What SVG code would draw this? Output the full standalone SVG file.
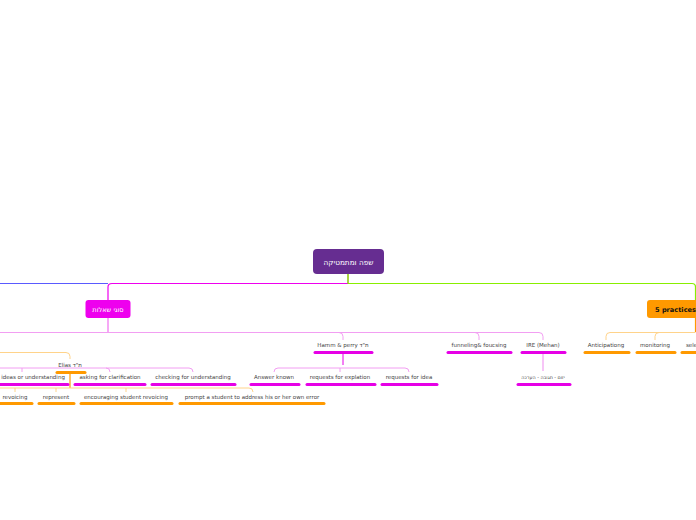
<svg xmlns="http://www.w3.org/2000/svg" width="696" height="520" viewBox="0 0 696 520">
<style>
text{font-family:"DejaVu Sans","Noto Sans",sans-serif;font-size:5.5px;fill:#444;text-anchor:middle}
.wt{fill:#fff;font-size:7.3px}
.bt{fill:#111;font-weight:bold;font-size:6.6px;text-anchor:start}
.ul-m{stroke:#e600e6;stroke-width:3;stroke-linecap:round;fill:none}
.ul-o{stroke:#ff9900;stroke-width:3;stroke-linecap:round;fill:none}
.lm{stroke:#f29ef2;stroke-width:1;fill:none}
.lo{stroke:#ffd38a;stroke-width:1;fill:none}
</style>
<rect width="696" height="520" fill="#fff"/>
<g id="connectors">
  <path d="M0,283.5 H108" stroke="#5a5aff" stroke-width="1.2" fill="none"/>
  <path d="M108,300 V287 Q108,283.5 112,283.5 H348" stroke="#ee00ee" stroke-width="1.2" fill="none"/>
  <path d="M348,274 V283.5" stroke="#8cc400" stroke-width="1.5" fill="none"/>
  <path d="M348,283.5 H692 Q695.5,283.5 695.5,287 V300" stroke="#88ee00" stroke-width="1.2" fill="none"/>
  <path d="M695.5,318 V332" stroke="#ff9900" stroke-width="1.2" fill="none"/>
  <path d="M108,318 V332" stroke="#f070f0" stroke-width="1.2" fill="none"/>
  <path class="lm" d="M0,332.5 H539 Q543,332.5 543,336.5 V340"/>
  <path class="lm" d="M339,332.5 Q343,332.5 343,336.5 V340"/>
  <path class="lm" d="M475,332.5 Q479,332.5 479,336.5 V340"/>
  <path class="lo" d="M695.5,332.5 H610 Q606,332.5 606,336.5 V340"/>
  <path class="lo" d="M659,332.5 Q655,332.5 655,336.5 V340"/>
  <path class="lo" d="M0,352.5 H66 Q70,352.5 70,356.5 V359"/>
  <path d="M343,353 V365" stroke="#e600e6" stroke-width="1" fill="none"/>
  <path class="lm" d="M274,372 V372 Q274,368 278,368 H405 Q409,368 409,372"/>
  <path class="lm" d="M340,368 V372"/>
  <path d="M543,353 V371" stroke="#f29ef2" stroke-width="1.2" fill="none"/>
  <path class="lm" d="M0,368 H189 Q193,368 193,372"/>
  <path class="lm" d="M22,368 V372"/>
  <path class="lm" d="M106,368 Q110,368 110,372"/>
  <path d="M70,373 V388" stroke="#ff9900" stroke-width="1.2" fill="none"/>
  <path class="lo" d="M0,388 H249 Q253,388 253,392"/>
  <path class="lo" d="M15,388 V392"/>
  <path class="lo" d="M56,388 V392"/>
  <path class="lo" d="M126,388 V392"/>
</g>
<g id="root">
  <rect x="313" y="249" width="71" height="25" rx="4" fill="#662d91"/>
  <text class="wt" x="348.5" y="264.5">שפה ומתמטיקה</text>
</g>
<g id="sugei-sheelot">
  <rect x="85.5" y="300" width="45" height="18" rx="3" fill="#ee00ee"/>
  <text class="wt" x="108" y="311.5" style="font-size:6.6px">סוגי שאלות</text>
</g>
<g id="five-practices">
  <rect x="647" y="300" width="60" height="18" rx="3" fill="#ff9900"/>
  <text class="bt" x="655" y="311.5">5 practices</text>
</g>
<g id="hamm-perry">
  <text x="343" y="347">Hamm &amp; perry ת"ד</text>
  <path class="ul-m" d="M315,352.5 H372"/>
</g>
<g id="funneling">
  <text x="479" y="347">funneling&amp; foucsing</text>
  <path class="ul-m" d="M448,352.5 H511"/>
</g>
<g id="ire">
  <text x="543" y="347">IRE (Mehan)</text>
  <path class="ul-m" d="M522,352.5 H565"/>
</g>
<g id="ire-child">
  <text x="543" y="379" style="font-size:4.8px">יזום - תגובה - הערכה</text>
  <path class="ul-m" d="M518,384.5 H570"/>
</g>
<g id="answer-known">
  <text x="274" y="379">Answer known</text>
  <path class="ul-m" d="M251,384.5 H299"/>
</g>
<g id="requests-explation">
  <text x="340" y="379">requests for explation</text>
  <path class="ul-m" d="M307,384.5 H375"/>
</g>
<g id="requests-idea">
  <text x="409" y="379">requests for idea</text>
  <path class="ul-m" d="M382,384.5 H437"/>
</g>
<g id="anticipating">
  <text x="606" y="347">Anticipationg</text>
  <path class="ul-o" d="M585,352.5 H629"/>
</g>
<g id="monitoring">
  <text x="655" y="347">monitoring</text>
  <path class="ul-o" d="M637,352.5 H675"/>
</g>
<g id="selecting">
  <text x="686" y="347" style="text-anchor:start">selecting</text>
  <path class="ul-o" d="M682,352.5 H698"/>
</g>
<g id="elias">
  <text x="70" y="367">Elias ת"ד</text>
  <path class="ul-o" d="M57,372.5 H85"/>
</g>
<g id="ideas-understanding">
  <text x="33" y="379">ideas or understanding</text>
  <path class="ul-m" d="M-2,384.5 H68"/>
</g>
<g id="asking-clarification">
  <text x="110" y="379">asking for clarification</text>
  <path class="ul-m" d="M75,384.5 H145"/>
</g>
<g id="checking-understanding">
  <text x="193" y="379">checking for understanding</text>
  <path class="ul-m" d="M152,384.5 H235"/>
</g>
<g id="revoicing">
  <text x="15" y="399">revoicing</text>
  <path class="ul-o" d="M-2,403.5 H32"/>
</g>
<g id="represent">
  <text x="56" y="399">represent</text>
  <path class="ul-o" d="M39,403.5 H74"/>
</g>
<g id="encouraging">
  <text x="126" y="399">encouraging student revoicing</text>
  <path class="ul-o" d="M81,403.5 H172"/>
</g>
<g id="prompt">
  <text x="252" y="399">prompt a student to address his or her own error</text>
  <path class="ul-o" d="M180,403.5 H324"/>
</g>
</svg>
